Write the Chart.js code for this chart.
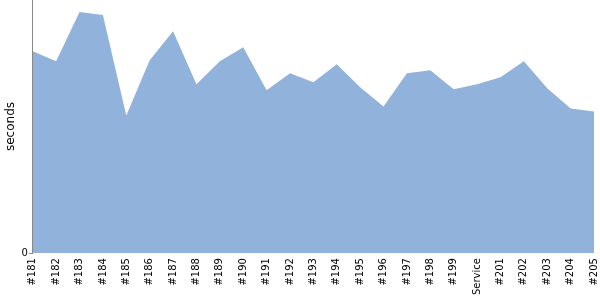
<!DOCTYPE html>
<html>
<head>
<meta charset="utf-8">
<script src="https://cdn.jsdelivr.net/npm/chart.js@4/dist/chart.umd.min.js"></script>
<style>
  html, body { margin: 0; padding: 0; background: #fff; width: 600px; height: 300px; overflow: hidden; position: relative; }
  #wrap { width: 611px; height: 307px; position: absolute; top: -7px; left: 0; }
</style>
</head>
<body>
<div id="wrap"><canvas id="c"></canvas></div>
<script>
const builds = ["#181","#182","#183","#184","#185","#186","#187","#188","#189","#190","#191","#192","#193","#194","#195","#196","#197","#198","#199","Service","#201","#202","#203","#204","#205"];
const durations = [201,191,240,237,137,192,221,168,191,205,162,179,170,188,165,146,179,182,163,168,175,191,164,144,141];
const yTicks = [0];
const yMax = 252;

new Chart(document.getElementById('c'), {
  type: 'line',
  data: {
    labels: builds,
    datasets: [{
      data: durations,
      fill: 'origin',
      backgroundColor: 'rgb(145,179,219)',
      borderColor: 'rgb(145,179,219)',
      borderWidth: 0,
      pointRadius: 0,
      tension: 0
    }]
  },
  options: {
    responsive: true,
    maintainAspectRatio: false,
    animation: false,
    layout: { padding: 0 },
    plugins: { legend: { display: false }, tooltip: { enabled: false } },
    scales: {
      x: {
        offset: false,
        grid: { display: false, drawTicks: false },
        border: { display: false },
        ticks: {
          autoSkip: false,
          minRotation: 90,
          maxRotation: 90,
          padding: 5,
          color: '#000',
          font: { family: 'DejaVu Sans', size: 10 }
        }
      },
      y: {
        min: 0,
        max: yMax,
        afterBuildTicks: (axis) => { axis.ticks = yTicks.map(v => ({ value: v })); },
        grid: { drawOnChartArea: false, drawTicks: true, tickLength: 4, color: '#888' },
        border: { display: true, color: '#888' },
        title: { display: true, text: 'seconds', color: '#000', font: { family: 'DejaVu Sans', size: 12 }, padding: { top: 4, bottom: 2 } },
        ticks: { color: '#000', padding: 1, font: { family: 'DejaVu Sans', size: 10 } }
      }
    }
  }
});
</script>
</body>
</html>
